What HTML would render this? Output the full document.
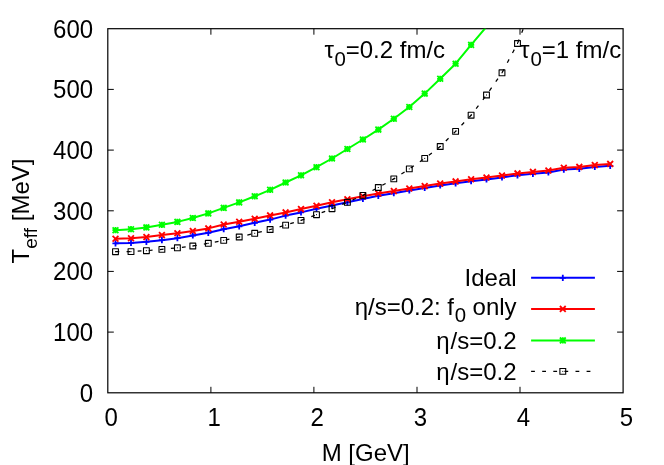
<!DOCTYPE html>
<html><head><meta charset="utf-8"><title>plot</title>
<style>
html,body{margin:0;padding:0;background:#fff;}
body{width:664px;height:465px;overflow:hidden;}
svg{display:block;will-change:transform;}
text{font-family:"Liberation Sans",sans-serif;font-size:24px;fill:#000;}
.sub{font-size:20.4px;}
.subl{font-size:19.2px;}
</style></head><body>
<svg width="664" height="465" viewBox="0 0 664 465">
<rect width="664" height="465" fill="#fff"/>
<defs><clipPath id="c"><rect x="107.8" y="28.7" width="515.3" height="364.1"/></clipPath></defs>

<path d="M210.9,392.8v-6M210.9,28.7v6M313.9,392.8v-6M313.9,28.7v6M417.0,392.8v-6M417.0,28.7v6M520.0,392.8v-6M520.0,28.7v6M107.8,332.1h6M623.1,332.1h-6M107.8,271.4h6M623.1,271.4h-6M107.8,210.8h6M623.1,210.8h-6M107.8,150.1h6M623.1,150.1h-6M107.8,89.4h6M623.1,89.4h-6" stroke="#000" stroke-width="1" fill="none"/>
<rect x="107.8" y="28.7" width="515.3" height="364.1" fill="none" stroke="#000" stroke-width="1.2"/>
<text transform="translate(93.1,401.7) scale(1,1.05)" text-anchor="end">0</text>
<text transform="translate(93.1,341.0) scale(1,1.05)" text-anchor="end">100</text>
<text transform="translate(93.1,280.3) scale(1,1.05)" text-anchor="end">200</text>
<text transform="translate(93.1,219.7) scale(1,1.05)" text-anchor="end">300</text>
<text transform="translate(93.1,159.0) scale(1,1.05)" text-anchor="end">400</text>
<text transform="translate(93.1,98.3) scale(1,1.05)" text-anchor="end">500</text>
<text transform="translate(93.1,37.6) scale(1,1.05)" text-anchor="end">600</text>
<text transform="translate(111.1,425.6) scale(1,1.04)" text-anchor="middle">0</text>
<text transform="translate(214.2,425.6) scale(1,1.04)" text-anchor="middle">1</text>
<text transform="translate(317.2,425.6) scale(1,1.04)" text-anchor="middle">2</text>
<text transform="translate(420.3,425.6) scale(1,1.04)" text-anchor="middle">3</text>
<text transform="translate(523.3,425.6) scale(1,1.04)" text-anchor="middle">4</text>
<text transform="translate(626.4,425.6) scale(1,1.04)" text-anchor="middle">5</text>
<text x="365.7" y="460.6" text-anchor="middle">M [GeV]</text>
<text transform="translate(29.1,263.5) rotate(-90)">T<tspan class="subl" dy="8.3">eff</tspan><tspan dy="-8.3"> [MeV]</tspan></text>
<g clip-path="url(#c)" fill="none" stroke-linejoin="round">
<path d="M115.5,243.3 L131.0,242.9 L146.4,241.8 L161.9,240.2 L177.4,238.2 L192.8,235.5 L208.3,232.8 L223.7,229.2 L239.2,226.3 L254.7,222.8 L270.1,219.6 L285.6,215.6 L301.0,212.4 L316.5,208.7 L332.0,205.5 L347.4,202.3 L362.9,198.9 L378.3,195.8 L393.8,193.2 L409.3,190.4 L424.7,188.0 L440.2,185.5 L455.6,183.3 L471.1,181.2 L486.5,179.4 L502.0,177.4 L517.5,175.3 L532.9,173.8 L548.4,172.4 L563.8,169.6 L579.3,168.8 L594.8,167.0 L610.2,165.8" stroke="#0000ff" stroke-width="2.0"/>
<path d="M112.4,243.3h6.2M115.5,240.2v6.2M127.9,242.9h6.2M131.0,239.8v6.2M143.3,241.8h6.2M146.4,238.7v6.2M158.8,240.2h6.2M161.9,237.1v6.2M174.3,238.2h6.2M177.4,235.1v6.2M189.7,235.5h6.2M192.8,232.4v6.2M205.2,232.8h6.2M208.3,229.7v6.2M220.6,229.2h6.2M223.7,226.1v6.2M236.1,226.3h6.2M239.2,223.2v6.2M251.6,222.8h6.2M254.7,219.7v6.2M267.0,219.6h6.2M270.1,216.5v6.2M282.5,215.6h6.2M285.6,212.5v6.2M297.9,212.4h6.2M301.0,209.3v6.2M313.4,208.7h6.2M316.5,205.6v6.2M328.9,205.5h6.2M332.0,202.4v6.2M344.3,202.3h6.2M347.4,199.2v6.2M359.8,198.9h6.2M362.9,195.8v6.2M375.2,195.8h6.2M378.3,192.7v6.2M390.7,193.2h6.2M393.8,190.1v6.2M406.2,190.4h6.2M409.3,187.3v6.2M421.6,188.0h6.2M424.7,184.9v6.2M437.1,185.5h6.2M440.2,182.4v6.2M452.5,183.3h6.2M455.6,180.2v6.2M468.0,181.2h6.2M471.1,178.1v6.2M483.4,179.4h6.2M486.5,176.3v6.2M498.9,177.4h6.2M502.0,174.3v6.2M514.4,175.3h6.2M517.5,172.2v6.2M529.8,173.8h6.2M532.9,170.7v6.2M545.3,172.4h6.2M548.4,169.3v6.2M560.7,169.6h6.2M563.8,166.5v6.2M576.2,168.8h6.2M579.3,165.7v6.2M591.7,167.0h6.2M594.8,163.9v6.2M607.1,165.8h6.2M610.2,162.7v6.2" stroke="#0000ff" stroke-width="1.8"/>
<path d="M115.5,238.7 L131.0,238.2 L146.4,237.1 L161.9,235.1 L177.4,233.3 L192.8,231.0 L208.3,228.4 L223.7,224.5 L239.2,221.8 L254.7,218.7 L270.1,215.4 L285.6,212.4 L301.0,209.1 L316.5,205.7 L332.0,202.3 L347.4,199.3 L362.9,196.3 L378.3,193.5 L393.8,191.1 L409.3,188.5 L424.7,186.1 L440.2,183.6 L455.6,181.4 L471.1,179.3 L486.5,177.5 L502.0,175.5 L517.5,173.4 L532.9,171.9 L548.4,170.5 L563.8,167.7 L579.3,166.9 L594.8,165.1 L610.2,163.9" stroke="#ff0000" stroke-width="2.0"/>
<path d="M112.6,235.8l5.8,5.8M112.6,241.6l5.8,-5.8M128.1,235.3l5.8,5.8M128.1,241.1l5.8,-5.8M143.5,234.2l5.8,5.8M143.5,240.0l5.8,-5.8M159.0,232.2l5.8,5.8M159.0,238.0l5.8,-5.8M174.5,230.4l5.8,5.8M174.5,236.2l5.8,-5.8M189.9,228.1l5.8,5.8M189.9,233.9l5.8,-5.8M205.4,225.5l5.8,5.8M205.4,231.3l5.8,-5.8M220.8,221.6l5.8,5.8M220.8,227.4l5.8,-5.8M236.3,218.9l5.8,5.8M236.3,224.7l5.8,-5.8M251.8,215.8l5.8,5.8M251.8,221.6l5.8,-5.8M267.2,212.5l5.8,5.8M267.2,218.3l5.8,-5.8M282.7,209.5l5.8,5.8M282.7,215.3l5.8,-5.8M298.1,206.2l5.8,5.8M298.1,212.0l5.8,-5.8M313.6,202.8l5.8,5.8M313.6,208.6l5.8,-5.8M329.1,199.4l5.8,5.8M329.1,205.2l5.8,-5.8M344.5,196.4l5.8,5.8M344.5,202.2l5.8,-5.8M360.0,193.4l5.8,5.8M360.0,199.2l5.8,-5.8M375.4,190.6l5.8,5.8M375.4,196.4l5.8,-5.8M390.9,188.2l5.8,5.8M390.9,194.0l5.8,-5.8M406.4,185.6l5.8,5.8M406.4,191.4l5.8,-5.8M421.8,183.2l5.8,5.8M421.8,189.0l5.8,-5.8M437.3,180.7l5.8,5.8M437.3,186.5l5.8,-5.8M452.7,178.5l5.8,5.8M452.7,184.3l5.8,-5.8M468.2,176.4l5.8,5.8M468.2,182.2l5.8,-5.8M483.6,174.6l5.8,5.8M483.6,180.4l5.8,-5.8M499.1,172.6l5.8,5.8M499.1,178.4l5.8,-5.8M514.6,170.5l5.8,5.8M514.6,176.3l5.8,-5.8M530.0,169.0l5.8,5.8M530.0,174.8l5.8,-5.8M545.5,167.6l5.8,5.8M545.5,173.4l5.8,-5.8M560.9,164.8l5.8,5.8M560.9,170.6l5.8,-5.8M576.4,164.0l5.8,5.8M576.4,169.8l5.8,-5.8M591.9,162.2l5.8,5.8M591.9,168.0l5.8,-5.8M607.3,161.0l5.8,5.8M607.3,166.8l5.8,-5.8" stroke="#ff0000" stroke-width="1.8"/>
<path d="M115.5,230.2 L131.0,229.2 L146.4,227.4 L161.9,224.8 L177.4,221.9 L192.8,218.0 L208.3,213.4 L223.7,207.9 L239.2,202.4 L254.7,196.3 L270.1,189.8 L285.6,182.5 L301.0,175.3 L316.5,167.2 L332.0,158.5 L347.4,149.0 L362.9,139.5 L378.3,129.6 L393.8,118.8 L409.3,107.0 L424.7,93.6 L440.2,78.8 L455.6,63.7 L471.1,44.9 L486.5,26.7" stroke="#00ff00" stroke-width="2.0"/>
<path d="M112.4,230.2h6.2M115.5,227.1v6.2M112.6,227.3l5.8,5.8M112.6,233.1l5.8,-5.8M127.9,229.2h6.2M131.0,226.1v6.2M128.1,226.3l5.8,5.8M128.1,232.1l5.8,-5.8M143.3,227.4h6.2M146.4,224.3v6.2M143.5,224.5l5.8,5.8M143.5,230.3l5.8,-5.8M158.8,224.8h6.2M161.9,221.7v6.2M159.0,221.9l5.8,5.8M159.0,227.7l5.8,-5.8M174.3,221.9h6.2M177.4,218.8v6.2M174.5,219.0l5.8,5.8M174.5,224.8l5.8,-5.8M189.7,218.0h6.2M192.8,214.9v6.2M189.9,215.1l5.8,5.8M189.9,220.9l5.8,-5.8M205.2,213.4h6.2M208.3,210.3v6.2M205.4,210.5l5.8,5.8M205.4,216.3l5.8,-5.8M220.6,207.9h6.2M223.7,204.8v6.2M220.8,205.0l5.8,5.8M220.8,210.8l5.8,-5.8M236.1,202.4h6.2M239.2,199.3v6.2M236.3,199.5l5.8,5.8M236.3,205.3l5.8,-5.8M251.6,196.3h6.2M254.7,193.2v6.2M251.8,193.4l5.8,5.8M251.8,199.2l5.8,-5.8M267.0,189.8h6.2M270.1,186.7v6.2M267.2,186.9l5.8,5.8M267.2,192.7l5.8,-5.8M282.5,182.5h6.2M285.6,179.4v6.2M282.7,179.6l5.8,5.8M282.7,185.4l5.8,-5.8M297.9,175.3h6.2M301.0,172.2v6.2M298.1,172.4l5.8,5.8M298.1,178.2l5.8,-5.8M313.4,167.2h6.2M316.5,164.1v6.2M313.6,164.3l5.8,5.8M313.6,170.1l5.8,-5.8M328.9,158.5h6.2M332.0,155.4v6.2M329.1,155.6l5.8,5.8M329.1,161.4l5.8,-5.8M344.3,149.0h6.2M347.4,145.9v6.2M344.5,146.1l5.8,5.8M344.5,151.9l5.8,-5.8M359.8,139.5h6.2M362.9,136.4v6.2M360.0,136.6l5.8,5.8M360.0,142.4l5.8,-5.8M375.2,129.6h6.2M378.3,126.5v6.2M375.4,126.7l5.8,5.8M375.4,132.5l5.8,-5.8M390.7,118.8h6.2M393.8,115.7v6.2M390.9,115.9l5.8,5.8M390.9,121.7l5.8,-5.8M406.2,107.0h6.2M409.3,103.9v6.2M406.4,104.1l5.8,5.8M406.4,109.9l5.8,-5.8M421.6,93.6h6.2M424.7,90.5v6.2M421.8,90.7l5.8,5.8M421.8,96.5l5.8,-5.8M437.1,78.8h6.2M440.2,75.7v6.2M437.3,75.9l5.8,5.8M437.3,81.7l5.8,-5.8M452.5,63.7h6.2M455.6,60.6v6.2M452.7,60.8l5.8,5.8M452.7,66.6l5.8,-5.8M468.0,44.9h6.2M471.1,41.8v6.2M468.2,42.0l5.8,5.8M468.2,47.8l5.8,-5.8" stroke="#00ff00" stroke-width="1.8"/>
<path d="M115.5,251.7 L131.0,251.6 L146.4,250.7 L161.9,249.4 L177.4,247.8 L192.8,246.0 L208.3,243.3 L223.7,240.4 L239.2,237.0 L254.7,233.3 L270.1,229.5 L285.6,225.1 L301.0,220.4 L316.5,214.7 L332.0,208.7 L347.4,202.3 L362.9,195.4 L378.3,187.5 L393.8,178.9 L409.3,168.9 L424.7,158.4 L440.2,146.5 L455.6,131.4 L471.1,115.2 L486.5,95.0 L502.0,72.8 L517.5,43.5 L532.9,4.3" stroke="#000" stroke-width="1.25" stroke-dasharray="3.8 7.3"/>
<path d="M112.6,248.8h5.8v5.8h-5.8zM128.1,248.7h5.8v5.8h-5.8zM143.5,247.8h5.8v5.8h-5.8zM159.0,246.5h5.8v5.8h-5.8zM174.5,244.9h5.8v5.8h-5.8zM189.9,243.1h5.8v5.8h-5.8zM205.4,240.4h5.8v5.8h-5.8zM220.8,237.5h5.8v5.8h-5.8zM236.3,234.1h5.8v5.8h-5.8zM251.8,230.4h5.8v5.8h-5.8zM267.2,226.6h5.8v5.8h-5.8zM282.7,222.2h5.8v5.8h-5.8zM298.1,217.5h5.8v5.8h-5.8zM313.6,211.8h5.8v5.8h-5.8zM329.1,205.8h5.8v5.8h-5.8zM344.5,199.4h5.8v5.8h-5.8zM360.0,192.5h5.8v5.8h-5.8zM375.4,184.6h5.8v5.8h-5.8zM390.9,176.0h5.8v5.8h-5.8zM406.4,166.0h5.8v5.8h-5.8zM421.8,155.5h5.8v5.8h-5.8zM437.3,143.6h5.8v5.8h-5.8zM452.7,128.5h5.8v5.8h-5.8zM468.2,112.3h5.8v5.8h-5.8zM483.6,92.1h5.8v5.8h-5.8zM499.1,69.9h5.8v5.8h-5.8zM514.6,40.6h5.8v5.8h-5.8z" stroke="#000" stroke-width="1.1"/>
<path d="M115.0,251.7h1M130.5,251.6h1M145.9,250.7h1M161.4,249.4h1M176.9,247.8h1M192.3,246.0h1M207.8,243.3h1M223.2,240.4h1M238.7,237.0h1M254.2,233.3h1M269.6,229.5h1M285.1,225.1h1M300.5,220.4h1M316.0,214.7h1M331.5,208.7h1M346.9,202.3h1M362.4,195.4h1M377.8,187.5h1M393.3,178.9h1M408.8,168.9h1M424.2,158.4h1M439.7,146.5h1M455.1,131.4h1M470.6,115.2h1M486.0,95.0h1M501.5,72.8h1M517.0,43.5h1" stroke="#000" stroke-width="1"/>
</g>
<text x="324.4" y="57.6">τ<tspan class="sub" dx="0.5" dy="8.3">0</tspan><tspan dy="-8.3">=0.2 fm/c</tspan></text>
<text x="520.0" y="57.6">τ<tspan class="sub" dx="1" dy="8.3">0</tspan><tspan dy="-8.3">=1 fm/c</tspan></text>
<text x="516.6" y="285.9" text-anchor="end">Ideal</text>
<text x="516.6" y="314.6" text-anchor="end">η/s=0.2: f<tspan class="sub" dx="0.8" dy="7.7">0</tspan><tspan dx="-0.3" dy="-7.7"> only</tspan></text>
<text x="516.6" y="348.8" text-anchor="end">η<tspan dx="1">/s=0.2</tspan></text>
<text x="516.6" y="380.0" text-anchor="end">η<tspan dx="1">/s=0.2</tspan></text>
<g fill="none">
<path d="M531.1,277.8H594.9" stroke="#0000ff" stroke-width="2.0"/>
<path d="M559.7,277.8h6.2M562.8,274.7v6.2" stroke="#0000ff" stroke-width="1.8"/>
<path d="M531.1,308.9H594.9" stroke="#ff0000" stroke-width="2.0"/>
<path d="M559.9,306.0l5.8,5.8M559.9,311.8l5.8,-5.8" stroke="#ff0000" stroke-width="1.8"/>
<path d="M531.1,340.4H594.9" stroke="#00ff00" stroke-width="2.0"/>
<path d="M559.7,340.4h6.2M562.8,337.3v6.2M559.9,337.5l5.8,5.8M559.9,343.3l5.8,-5.8" stroke="#00ff00" stroke-width="1.8"/>
<path d="M531.1,371.4H594.9" stroke="#000" stroke-width="1.25" stroke-dasharray="3.8 7.3"/>
<path d="M559.9,368.5h5.8v5.8h-5.8z" stroke="#000" stroke-width="1.1"/>
<path d="M562.3,371.4h1" stroke="#000" stroke-width="1"/>
</g>
</svg></body></html>
